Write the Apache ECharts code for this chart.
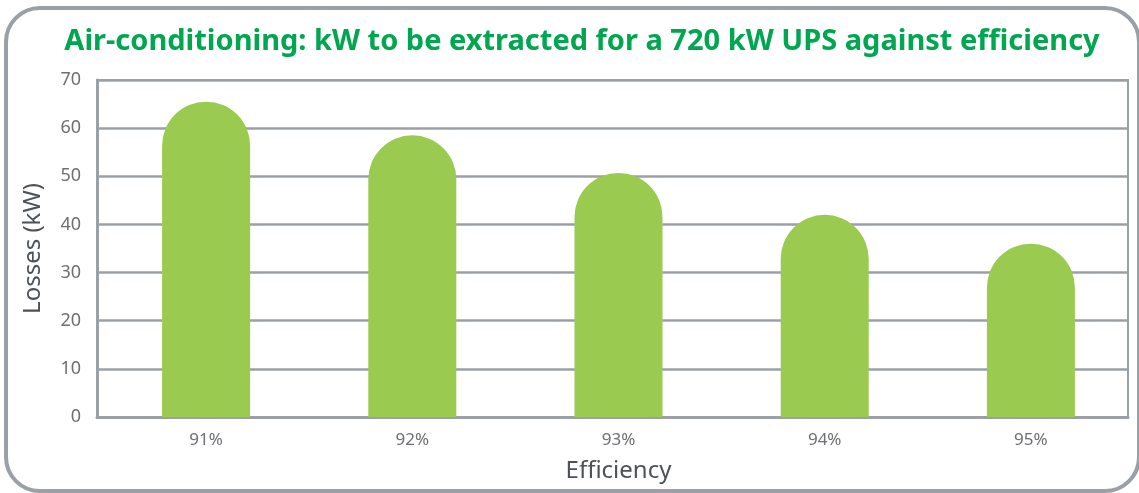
<!DOCTYPE html>
<html>
<head>
<meta charset="utf-8">
<script src="https://cdn.jsdelivr.net/npm/echarts@6/dist/echarts.min.js"></script>
<style>
  html, body { margin: 0; padding: 0; background: #fff; }
  #chart { width: 1139px; height: 493px; }
</style>
</head>
<body>
<div id="chart"></div>
<script>
// efficiency categories and losses
var categories = ['91%', '92%', '93%', '94%', '95%'];
var losses = [65.5, 58.5, 50.7, 42, 36];
var yTicks = [0, 10, 20, 30, 40, 50, 60, 70];

var chart = echarts.init(document.getElementById('chart'));

var lineGrey = '#9aa0a6';
var font = 'Noto Sans';

var option = {
  animation: false,
  title: {
    text: 'Air-conditioning: kW to be extracted for a 720 kW UPS against efficiency',
    left: 577,
    top: 22,
    textAlign: 'center',
    textStyle: {
      color: '#00a650',
      fontFamily: font,
      fontWeight: 'bold',
      fontSize: 29
    }
  },
  graphic: [{
    type: 'rect',
    shape: { x: 6, y: 8, width: 1133, height: 483, r: 34 },
    style: { fill: 'none', stroke: lineGrey, lineWidth: 4 },
    silent: true
  }],
  // grid 0: bars and category labels, grid 1: frame, value axis and gridlines
  grid: [{
    left: 103, right: 5, top: 80, bottom: 76,
    outerBoundsMode: 'none'
  }, {
    left: 97, right: 11, top: 80, bottom: 76,
    outerBoundsMode: 'none',
    show: true,
    borderColor: lineGrey,
    borderWidth: 2
  }],
  xAxis: [{
    gridIndex: 0,
    type: 'category',
    data: categories,
    name: 'Efficiency',
    nameLocation: 'middle',
    nameGap: 42,
    nameTextStyle: { color: '#4d5257', fontSize: 24, fontFamily: font },
    axisLine: { show: false },
    axisTick: { show: false },
    axisLabel: { color: '#6d6f72', fontSize: 17, fontFamily: font, margin: 15 }
  }, {
    gridIndex: 1,
    type: 'category',
    data: categories,
    axisLine: { lineStyle: { color: lineGrey, width: 3 } },
    axisTick: { show: false },
    axisLabel: { show: false }
  }],
  yAxis: [{
    gridIndex: 0,
    type: 'value',
    min: yTicks[0],
    max: yTicks[yTicks.length - 1],
    interval: 10,
    show: false
  }, {
    gridIndex: 1,
    type: 'value',
    min: yTicks[0],
    max: yTicks[yTicks.length - 1],
    interval: 10,
    name: 'Losses (kW)',
    nameLocation: 'middle',
    nameGap: 52,
    nameTextStyle: { color: '#4d5257', fontSize: 24, fontFamily: font },
    axisLine: { show: true, lineStyle: { color: lineGrey, width: 3 } },
    axisTick: { show: false },
    axisLabel: { color: '#6d6f72', fontSize: 18, fontFamily: font, margin: 16 },
    splitLine: { lineStyle: { color: lineGrey, width: 2.5 } }
  }],
  series: [{
    type: 'bar',
    xAxisIndex: 0,
    yAxisIndex: 0,
    data: losses,
    barWidth: 88,
    z: 5,
    itemStyle: { color: '#9bca50', borderRadius: [44, 44, 0, 0] }
  }]
};

chart.setOption(option);
</script>
</body>
</html>
